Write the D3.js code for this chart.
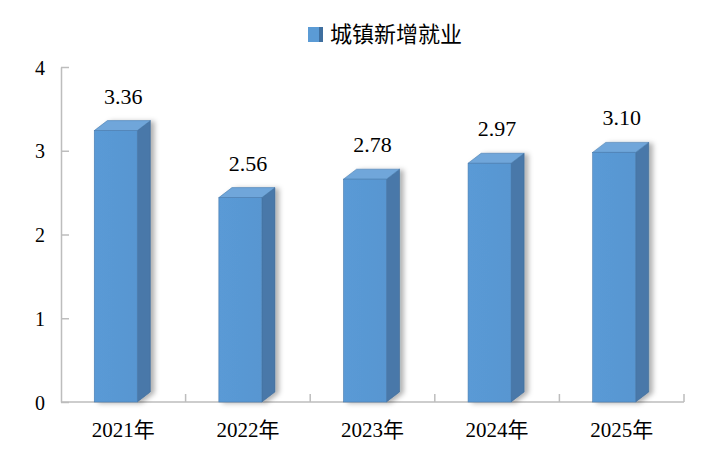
<!DOCTYPE html>
<html>
<head>
<meta charset="utf-8">
<script src="https://cdn.jsdelivr.net/npm/d3@7"></script>
<style>
  body { margin: 0; background: #fff; }
  svg { display: block; }
</style>
</head>
<body>
<div id="chart"></div>
<script>
// chart data
const years = ['2021年', '2022年', '2023年', '2024年', '2025年'];
const jobs = [3.36, 2.56, 2.78, 2.97, 3.10];
const yTicks = [0, 1, 2, 3, 4];
const seriesName = '城镇新增就业';

const width = 709, height = 455;
const margin = { top: 67, right: 25, bottom: 53, left: 61 };

const svg = d3.select('#chart').append('svg')
    .attr('width', width)
    .attr('height', height);

// soft grey shadow behind the bars
const defs = svg.append('defs');
const shadow = defs.append('filter')
    .attr('id', 'shadow')
    .attr('x', '-20%').attr('y', '-10%')
    .attr('width', '160%').attr('height', '130%');
shadow.append('feDropShadow')
    .attr('dx', 4).attr('dy', 1)
    .attr('stdDeviation', 2.5)
    .attr('flood-color', '#000')
    .attr('flood-opacity', 0.3);

const frontGrad = defs.append('linearGradient')
    .attr('id', 'front').attr('x1', 0).attr('x2', 1).attr('y1', 0).attr('y2', 0);
frontGrad.append('stop').attr('offset', 0).attr('stop-color', '#5a9ad6');
frontGrad.append('stop').attr('offset', 1).attr('stop-color', '#5896d1');

// scales
const x = d3.scaleBand()
    .domain(years)
    .range([margin.left, width - margin.right])
    .padding(0);

const y = d3.scaleLinear()
    .domain([0, 4])
    .range([height - margin.bottom, margin.top]);

const axisColor = '#bdbdbd';

// y axis with inward ticks
const yAxisG = svg.append('g')
    .attr('transform', `translate(${margin.left},0)`)
    .call(d3.axisLeft(y).tickValues(yTicks).tickSize(-8).tickSizeOuter(0).tickFormat(d3.format('d')));
yAxisG.select('.domain').attr('stroke', axisColor).attr('stroke-width', 1.5);
yAxisG.selectAll('.tick line').attr('stroke', axisColor).attr('stroke-width', 1.5);
yAxisG.selectAll('.tick text')
    .attr('x', -16)
    .attr('dy', '0.36em')
    .attr('fill', '#000')
    .style('font-family', '"Liberation Serif", "Times New Roman", serif')
    .style('font-size', '20px');

// x axis: line plus ticks on the category boundaries
const y0 = y(0);
const bounds = years.map(d => x(d)).concat([x.range()[1]]);
svg.append('line')
    .attr('x1', margin.left).attr('x2', x.range()[1])
    .attr('y1', y0).attr('y2', y0)
    .attr('stroke', axisColor).attr('stroke-width', 1.5);
svg.selectAll('.x-tick')
    .data(bounds.slice(1))
    .join('line')
    .attr('class', 'x-tick')
    .attr('x1', d => d).attr('x2', d => d)
    .attr('y1', y0).attr('y2', y0 - 8)
    .attr('stroke', axisColor).attr('stroke-width', 1.5);

svg.selectAll('.x-label')
    .data(years)
    .join('text')
    .attr('class', 'x-label')
    .attr('x', d => x(d) + x.bandwidth() / 2)
    .attr('y', 437)
    .attr('text-anchor', 'middle')
    .style('font-family', '"Liberation Serif", "Noto Sans CJK SC", serif')
    .style('font-size', '21px')
    .text(d => d);

// 3D bars
const bw = x.bandwidth();
const faceW = bw * 0.345, dx = bw * 0.105, dy = 10;
const bars = svg.selectAll('.bar')
    .data(jobs)
    .join('g')
    .attr('class', 'bar')
    .attr('filter', 'url(#shadow)');

const left = (d, i) => x(years[i]) + (bw - faceW - dx) / 2 - 1;

bars.append('polygon')
    .attr('points', (d, i) => {
        const x0 = left(d, i), top = y(d);
        return [[x0 + faceW, top + dy], [x0 + faceW + dx, top], [x0 + faceW + dx, y0 - dy], [x0 + faceW, y0]].join(' ');
    })
    .attr('fill', '#4878a9')
    .attr('stroke', '#3e6894')
    .attr('stroke-width', 0.6);

bars.append('polygon')
    .attr('points', (d, i) => {
        const x0 = left(d, i), top = y(d);
        return [[x0, top + dy], [x0 + dx, top], [x0 + faceW + dx, top], [x0 + faceW, top + dy]].join(' ');
    })
    .attr('fill', '#6fa6da')
    .attr('stroke', '#4a7db0')
    .attr('stroke-width', 0.6);

bars.append('rect')
    .attr('x', (d, i) => left(d, i))
    .attr('y', d => y(d) + dy)
    .attr('width', faceW)
    .attr('height', d => y0 - y(d) - dy)
    .attr('fill', 'url(#front)')
    .attr('stroke', '#4a7db0')
    .attr('stroke-width', 0.6);

// value labels
svg.selectAll('.value')
    .data(jobs)
    .join('text')
    .attr('class', 'value')
    .attr('x', (d, i) => x(years[i]) + bw / 2)
    .attr('y', d => y(d) - 17)
    .attr('text-anchor', 'middle')
    .style('font-family', '"Liberation Serif", "Times New Roman", serif')
    .style('font-size', '22px')
    .text(d => d.toFixed(2));

// legend
const legend = svg.append('g').attr('transform', 'translate(308,27)');
legend.append('rect')
    .attr('width', 15).attr('height', 15)
    .attr('fill', '#5b9bd5');
legend.append('rect')
    .attr('x', 11).attr('width', 4).attr('height', 15)
    .attr('fill', '#3f6f9f');
legend.append('text')
    .attr('x', 22)
    .attr('y', 15)
    .style('font-family', '"Noto Sans CJK SC", sans-serif')
    .style('font-size', '22px')
    .text(seriesName);
</script>
</body>
</html>
